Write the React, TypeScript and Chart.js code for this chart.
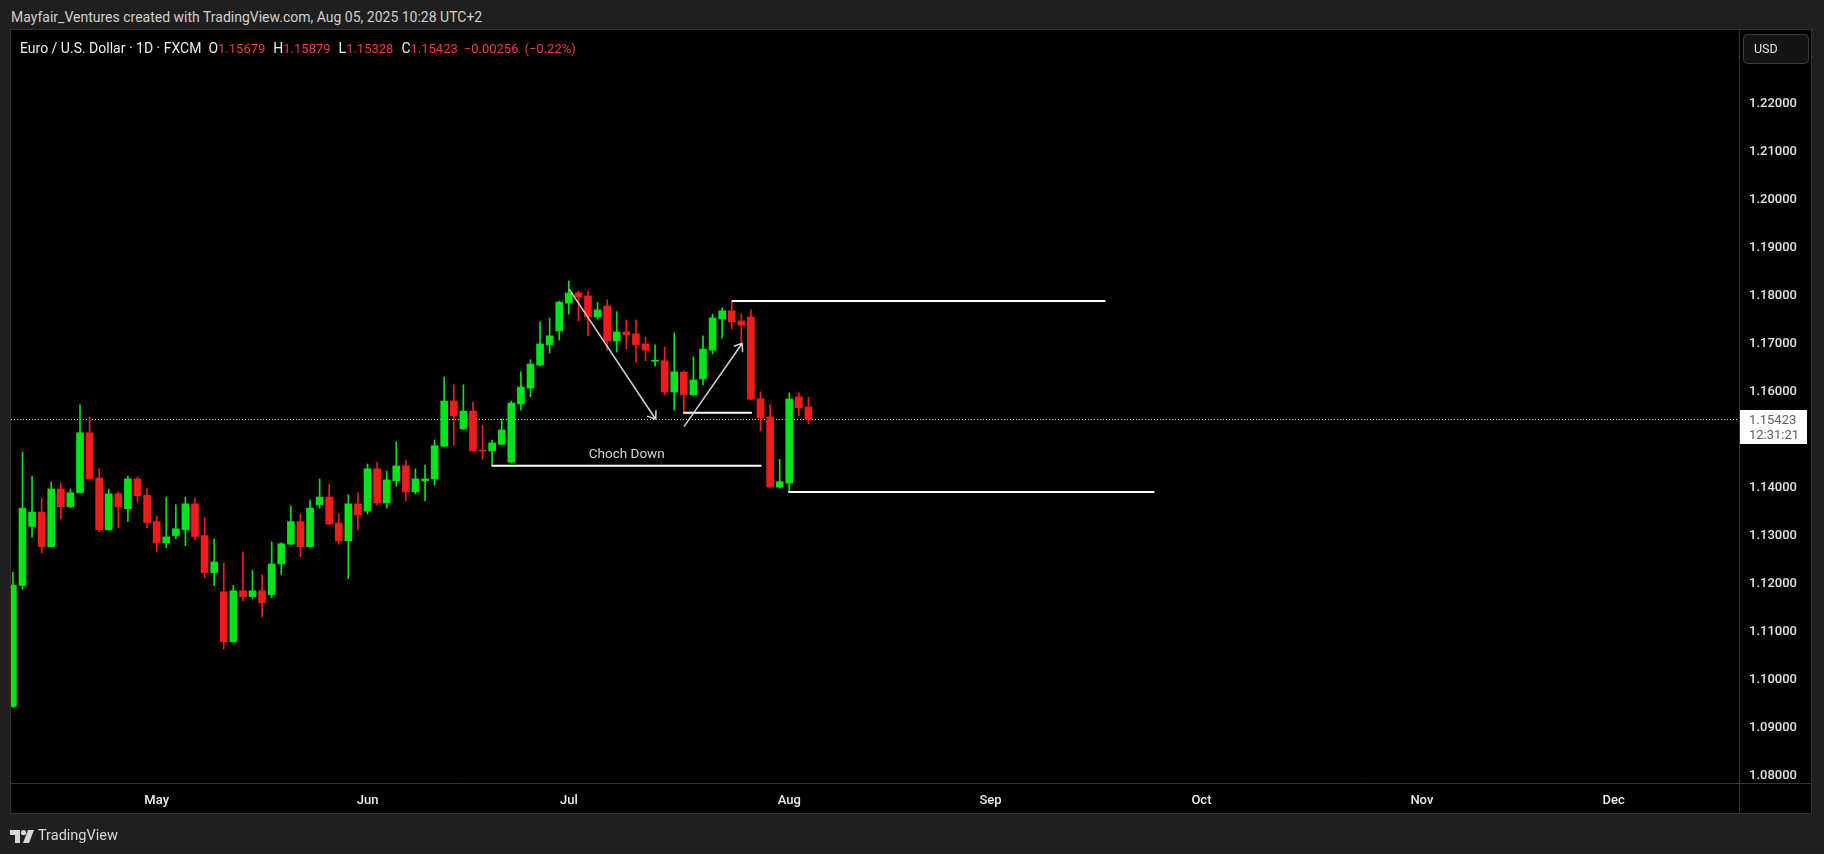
import React, { useEffect, useRef } from 'react';
import { Chart, registerables } from 'chart.js';

Chart.register(...registerables);

// ---- data (EUR/USD daily, FXCM) ----
const DATES = [
  '2025-04-10','2025-04-11','2025-04-14','2025-04-15','2025-04-16','2025-04-17','2025-04-18','2025-04-21','2025-04-22','2025-04-23',
  '2025-04-24','2025-04-25','2025-04-28','2025-04-29','2025-04-30','2025-05-01','2025-05-02','2025-05-05','2025-05-06','2025-05-07',
  '2025-05-08','2025-05-09','2025-05-12','2025-05-13','2025-05-14','2025-05-15','2025-05-16','2025-05-19','2025-05-20','2025-05-21',
  '2025-05-22','2025-05-23','2025-05-26','2025-05-27','2025-05-28','2025-05-29','2025-05-30','2025-06-02','2025-06-03','2025-06-04',
  '2025-06-05','2025-06-06','2025-06-09','2025-06-10','2025-06-11','2025-06-12','2025-06-13','2025-06-16','2025-06-17','2025-06-18',
  '2025-06-19','2025-06-20','2025-06-23','2025-06-24','2025-06-25','2025-06-26','2025-06-27','2025-06-30','2025-07-01','2025-07-02',
  '2025-07-03','2025-07-04','2025-07-07','2025-07-08','2025-07-09','2025-07-10','2025-07-11','2025-07-14','2025-07-15','2025-07-16',
  '2025-07-17','2025-07-18','2025-07-21','2025-07-22','2025-07-23','2025-07-24','2025-07-25','2025-07-28','2025-07-29','2025-07-30',
  '2025-07-31','2025-08-01','2025-08-04','2025-08-05',
];

const OPEN = [
  1.0944, 1.1196, 1.1319, 1.1349, 1.1277, 1.1397, 1.1360, 1.1389, 1.1514, 1.1420,
  1.1312, 1.1387, 1.1356, 1.1418, 1.1384, 1.1329, 1.1285, 1.1300, 1.1312, 1.1366,
  1.1300, 1.1223, 1.1183, 1.1079, 1.1185, 1.1173, 1.1185, 1.1177, 1.1241, 1.1282,
  1.1329, 1.1277, 1.1364, 1.1380, 1.1326, 1.1289, 1.1366, 1.1351, 1.1439, 1.1368,
  1.1414, 1.1445, 1.1391, 1.1414, 1.1418, 1.1486, 1.1580, 1.1522, 1.1559, 1.1478,
  1.1476, 1.1490, 1.1453, 1.1574, 1.1607, 1.1655, 1.1697, 1.1726, 1.1784, 1.1805,
  1.1799, 1.1755, 1.1778, 1.1705, 1.1724, 1.1720, 1.1699, 1.1663, 1.1664, 1.1599,
  1.1640, 1.1593, 1.1626, 1.1686, 1.1751, 1.1768, 1.1747, 1.1755, 1.1585, 1.1547,
  1.1401, 1.1409, 1.1589, 1.15679,
];

const HIGH = [
  1.1224, 1.1474, 1.1424, 1.1378, 1.1412, 1.1410, 1.1397, 1.1572, 1.1547, 1.1439,
  1.1397, 1.1391, 1.1424, 1.1422, 1.1399, 1.1341, 1.1380, 1.1364, 1.1380, 1.1378,
  1.1337, 1.1293, 1.1243, 1.1196, 1.1266, 1.1228, 1.1218, 1.1287, 1.1285, 1.1362,
  1.1345, 1.1374, 1.1418, 1.1407, 1.1345, 1.1385, 1.1389, 1.1449, 1.1453, 1.1434,
  1.1495, 1.1457, 1.1439, 1.1447, 1.1499, 1.1630, 1.1614, 1.1614, 1.1578, 1.1530,
  1.1499, 1.1543, 1.1580, 1.1641, 1.1666, 1.1745, 1.1753, 1.1788, 1.1830, 1.1809,
  1.1809, 1.1786, 1.1791, 1.1766, 1.1749, 1.1749, 1.1713, 1.1697, 1.1693, 1.1722,
  1.1643, 1.1672, 1.1716, 1.1761, 1.1774, 1.1789, 1.1761, 1.1770, 1.1599, 1.1572,
  1.1459, 1.1597, 1.1597, 1.15879,
];

const LOW = [
  1.0942, 1.1188, 1.1296, 1.1264, 1.1276, 1.1335, 1.1358, 1.1388, 1.1417, 1.1308,
  1.1311, 1.1316, 1.1329, 1.1370, 1.1316, 1.1266, 1.1275, 1.1293, 1.1279, 1.1291,
  1.1212, 1.1196, 1.1064, 1.1078, 1.1164, 1.1169, 1.1131, 1.1171, 1.1219, 1.1281,
  1.1256, 1.1276, 1.1357, 1.1322, 1.1282, 1.1210, 1.1312, 1.1345, 1.1364, 1.1357,
  1.1403, 1.1372, 1.1387, 1.1372, 1.1405, 1.1485, 1.1489, 1.1521, 1.1475, 1.1459,
  1.1445, 1.1489, 1.1451, 1.1561, 1.1589, 1.1653, 1.1680, 1.1707, 1.1761, 1.1747,
  1.1716, 1.1751, 1.1686, 1.1682, 1.1689, 1.1661, 1.1664, 1.1653, 1.1593, 1.1561,
  1.1555, 1.1591, 1.1614, 1.1678, 1.1711, 1.1730, 1.1697, 1.1583, 1.1518, 1.1400,
  1.1399, 1.1391, 1.1549, 1.15328,
];

const CLOSE = [
  1.1197, 1.1357, 1.1349, 1.1277, 1.1397, 1.1360, 1.1389, 1.1514, 1.1418, 1.1312,
  1.1387, 1.1360, 1.1418, 1.1383, 1.1327, 1.1285, 1.1297, 1.1314, 1.1366, 1.1298,
  1.1223, 1.1245, 1.1079, 1.1185, 1.1173, 1.1185, 1.1160, 1.1241, 1.1283, 1.1329,
  1.1277, 1.1357, 1.1380, 1.1324, 1.1289, 1.1366, 1.1343, 1.1439, 1.1368, 1.1416,
  1.1445, 1.1391, 1.1418, 1.1418, 1.1487, 1.1580, 1.1549, 1.1559, 1.1476, 1.1476,
  1.1493, 1.1520, 1.1576, 1.1609, 1.1657, 1.1699, 1.1716, 1.1786, 1.1805, 1.1797,
  1.1755, 1.1770, 1.1705, 1.1724, 1.1718, 1.1697, 1.1686, 1.1665, 1.1599, 1.1641,
  1.1593, 1.1624, 1.1688, 1.1753, 1.1768, 1.1745, 1.1738, 1.1584, 1.1545, 1.1401,
  1.1412, 1.1584, 1.1566, 1.15423,
];

// x axis: bar index units; month labels at first trading bar of each month
const MONTH_LABELS = ['May', 'Jun', 'Jul', 'Aug', 'Sep', 'Oct', 'Nov', 'Dec'];
const MONTH_START_BAR = [15, 37, 58, 81, 102, 124, 147, 167];
const X_MIN = -0.198;
const X_MAX = 180.19;

// y axis
const PRICE_TICKS = [1.08, 1.09, 1.10, 1.11, 1.12, 1.13, 1.14, 1.16, 1.17, 1.18, 1.19, 1.20, 1.21, 1.22];
const Y_MIN = 1.078481;
const Y_MAX = 1.235261;

const LAST_PRICE = 1.15423;
const COUNTDOWN = '12:31:21';

// legend values
const LEGEND_LABELS = ['O', 'H', 'L', 'C'];
const LEGEND_VALUES = ['1.15679', '1.15879', '1.15328', '1.15423'];
const CHANGE_TEXT = ['−0.00256', '(−0.22%)'];

// drawings (bar index, price)
const LEVEL_FROM = [75, 69.94, 49.95, 80.9];
const LEVEL_TO = [114.0, 77.1, 78.1, 119.1];
const LEVEL_PRICE = [1.17884, 1.15558, 1.14455, 1.13907];

const ARROW_X0 = [58.05, 70.02];
const ARROW_P0 = [1.18127, 1.15267];
const ARROW_X1 = [67.06, 76.1];
const ARROW_P1 = [1.15421, 1.17003];

const NOTE_TEXT = ['Choch Down'];
const NOTE_X = [64.04];
const NOTE_P = [1.14692];

const UP = '#00e51a';
const DOWN = '#f01c1c';
const FONT = 'Roboto, "Noto Sans", sans-serif';
const SEP = '#34373f';

const overlay = {
  id: 'overlay',
  beforeDatasetsDraw(chart: any) {
    const { ctx, chartArea: a } = chart;
    const y = chart.scales.y;
    ctx.save();
    ctx.strokeStyle = '#d6d6d6';
    ctx.lineWidth = 1;
    ctx.setLineDash([1, 2]);
    const py = Math.round(y.getPixelForValue(LAST_PRICE)) + 0.5;
    ctx.beginPath();
    ctx.moveTo(a.left, py);
    ctx.lineTo(a.right, py);
    ctx.stroke();
    ctx.restore();
  },
  afterDatasetsDraw(chart: any) {
    const { ctx, chartArea: a } = chart;
    const xs = chart.scales.x;
    const ys = chart.scales.y;
    ctx.save();
    ctx.beginPath();
    ctx.rect(a.left, a.top, a.right - a.left, a.bottom - a.top);
    ctx.clip();
    // horizontal levels
    ctx.strokeStyle = '#ffffff';
    ctx.lineWidth = 2;
    for (let i = 0; i < LEVEL_PRICE.length; i++) {
      const yy = ys.getPixelForValue(LEVEL_PRICE[i]);
      ctx.beginPath();
      ctx.moveTo(xs.getPixelForValue(LEVEL_FROM[i]), yy);
      ctx.lineTo(xs.getPixelForValue(LEVEL_TO[i]), yy);
      ctx.stroke();
    }
    // arrows
    ctx.strokeStyle = '#d4d4d4';
    ctx.lineWidth = 1.5;
    for (let i = 0; i < ARROW_X0.length; i++) {
      const x0 = xs.getPixelForValue(ARROW_X0[i]);
      const y0 = ys.getPixelForValue(ARROW_P0[i]);
      const x1 = xs.getPixelForValue(ARROW_X1[i]);
      const y1 = ys.getPixelForValue(ARROW_P1[i]);
      ctx.beginPath();
      ctx.moveTo(x0, y0);
      ctx.lineTo(x1, y1);
      const ang = Math.atan2(y1 - y0, x1 - x0);
      const L = 9;
      for (const d of [Math.PI * 0.8, -Math.PI * 0.8]) {
        ctx.moveTo(x1, y1);
        ctx.lineTo(x1 + L * Math.cos(ang + d), y1 + L * Math.sin(ang + d));
      }
      ctx.stroke();
    }
    // notes
    ctx.fillStyle = '#d2d2d2';
    ctx.font = `13.5px ${FONT}`;
    ctx.textAlign = 'center';
    ctx.textBaseline = 'middle';
    for (let i = 0; i < NOTE_TEXT.length; i++) {
      ctx.fillText(NOTE_TEXT[i], xs.getPixelForValue(NOTE_X[i]), ys.getPixelForValue(NOTE_P[i]));
    }
    ctx.restore();
  },
  afterDraw(chart: any) {
    const { ctx, chartArea: a } = chart;
    const ys = chart.scales.y;
    ctx.save();
    // separators
    ctx.strokeStyle = SEP;
    ctx.lineWidth = 1;
    ctx.beginPath();
    ctx.moveTo(a.right - 0.5, 29);
    ctx.lineTo(a.right - 0.5, 813);
    ctx.moveTo(10, a.bottom + 0.5);
    ctx.lineTo(1812, a.bottom + 0.5);
    ctx.stroke();
    // last price label
    const py = ys.getPixelForValue(LAST_PRICE);
    const top = Math.round(py) - 9;
    ctx.fillStyle = '#ffffff';
    ctx.fillRect(a.right, top, 67, 34);
    ctx.fillStyle = '#5a5d66';
    ctx.font = `13px ${FONT}`;
    ctx.textAlign = 'left';
    ctx.textBaseline = 'middle';
    ctx.fillText(LAST_PRICE.toFixed(5), a.right + 9, top + 10.5);
    ctx.fillText(COUNTDOWN, a.right + 9, top + 26);
    // USD button
    const bx = 1743.5, by = 34.5, bw = 65, bh = 29, r = 4;
    ctx.beginPath();
    ctx.moveTo(bx + r, by);
    ctx.arcTo(bx + bw, by, bx + bw, by + bh, r);
    ctx.arcTo(bx + bw, by + bh, bx, by + bh, r);
    ctx.arcTo(bx, by + bh, bx, by, r);
    ctx.arcTo(bx, by, bx + bw, by, r);
    ctx.closePath();
    ctx.fillStyle = '#141414';
    ctx.fill();
    ctx.strokeStyle = '#3c3c3c';
    ctx.stroke();
    ctx.fillStyle = '#e0e0e0';
    ctx.font = `12.5px ${FONT}`;
    ctx.fillText('USD', 1754, 49.5);
    ctx.restore();
  },
};

export default function App() {
  const ref = useRef<HTMLCanvasElement>(null);

  useEffect(() => {
    const canvas = ref.current;
    if (!canvas) return;
    const colors = OPEN.map((o, i) => (CLOSE[i] >= o ? UP : DOWN));
    const bodies = OPEN.map((o, i) => ({ x: i, y: [o, CLOSE[i]] }));
    const wicks = LOW.map((l, i) => ({ x: i, y: [l, HIGH[i]] }));
    const chart = new Chart(canvas, {
      type: 'bar',
      data: {
        labels: DATES,
        datasets: [
          { label: 'body', data: bodies as any, backgroundColor: colors, barThickness: 7, grouped: false, minBarLength: 1, borderWidth: 0 } as any,
          { label: 'wick', data: wicks as any, backgroundColor: colors, barThickness: 1, grouped: false, borderWidth: 0 } as any,
        ],
      },
      options: {
        responsive: false,
        animation: false,
        events: [],
        layout: { padding: { left: 11, top: 30, right: 12, bottom: 40 } },
        plugins: { legend: { display: false }, tooltip: { enabled: false } },
        scales: {
          x: {
            type: 'linear',
            min: X_MIN,
            max: X_MAX,
            offset: false,
            grid: { display: false, drawTicks: false },
            border: { display: false },
            afterFit: (s: any) => { s.height = 31; },
            afterBuildTicks: (s: any) => { s.ticks = MONTH_START_BAR.map((v) => ({ value: v })); },
            ticks: {
              autoSkip: false,
              maxRotation: 0,
              padding: 10,
              color: '#ececec',
              font: { family: FONT, size: 13, weight: '500' },
              callback: (v: any) => {
                const k = MONTH_START_BAR.indexOf(Number(v));
                return k >= 0 ? MONTH_LABELS[k] : '';
              },
            },
          },
          y: {
            type: 'linear',
            position: 'right',
            min: Y_MIN,
            max: Y_MAX,
            beginAtZero: false,
            grid: { display: false, drawTicks: false },
            border: { display: false },
            afterFit: (s: any) => { s.width = 72; },
            afterBuildTicks: (s: any) => { s.ticks = PRICE_TICKS.map((v) => ({ value: v })); },
            ticks: {
              padding: 9,
              color: '#e2e2e2',
              font: { family: FONT, size: 13, weight: '500' },
              callback: (v: any) => Number(v).toFixed(5),
            },
          },
        },
      } as any,
      plugins: [overlay],
    });
    return () => chart.destroy();
  }, []);

  const red = '#f03c3c';
  const white = '#eeeeee';
  return (
    <div style={{ position: 'fixed', left: 0, top: 0, width: 1824, height: 854, background: '#1f1f1f', overflow: 'hidden', fontFamily: FONT }}>
      <div style={{ position: 'absolute', left: 11, top: 9, fontSize: 14, lineHeight: '16px', color: '#d0d0d0', whiteSpace: 'nowrap' }}>
        Mayfair_Ventures created with TradingView.com, Aug 05, 2025 10:28 UTC+2
      </div>
      <div style={{ position: 'absolute', left: 10, top: 29, width: 1802, height: 785, background: '#000', border: '1px solid #333333', boxSizing: 'border-box' }} />
      <canvas ref={ref} width={1824} height={854} style={{ position: 'absolute', left: 0, top: 0, width: 1824, height: 854 }} />
      <div style={{ position: 'absolute', left: 20, top: 40, fontSize: 14, lineHeight: '16px', color: white, whiteSpace: 'nowrap' }}>
        <span>Euro / U.S. Dollar · 1D · FXCM</span>
        {LEGEND_LABELS.map((l, i) => (
          <React.Fragment key={l}>
            <span style={{ marginLeft: i === 0 ? 7 : 8 }}>{l}</span>
            <span style={{ color: red, fontSize: 13 }}>{LEGEND_VALUES[i]}</span>
          </React.Fragment>
        ))}
        <span style={{ marginLeft: 6, color: red, fontSize: 13 }}>{CHANGE_TEXT[0]}</span>
        <span style={{ marginLeft: 6, color: red, fontSize: 13 }}>{CHANGE_TEXT[1]}</span>
      </div>
      <div style={{ position: 'absolute', left: 10, top: 829, display: 'flex', alignItems: 'center' }}>
        <svg width="25" height="13" viewBox="0 0 25 13">
          <path d="M0 0h10v13H5V5H0z" fill="#d8d8d8" />
          <circle cx="13.5" cy="2.6" r="2.6" fill="#d8d8d8" />
          <path d="M18 0h6l-5 13h-6z" fill="#d8d8d8" />
        </svg>
        <span style={{ marginLeft: 3, fontSize: 14.5, lineHeight: '14px', color: '#d8d8d8' }}>TradingView</span>
      </div>
    </div>
  );
}
